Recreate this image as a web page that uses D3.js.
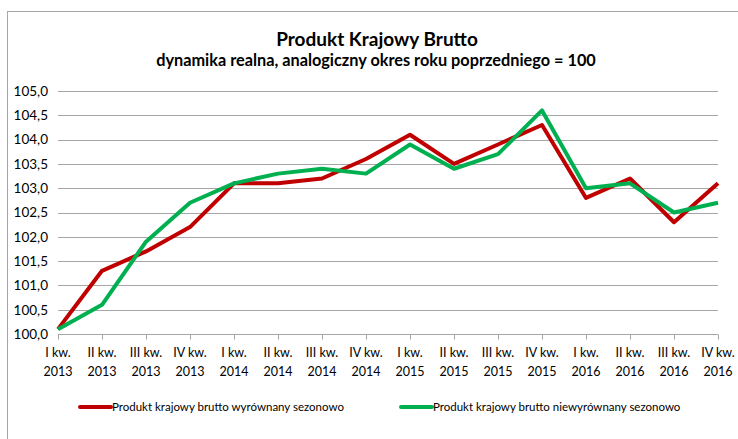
<!DOCTYPE html>
<html>
<head>
<meta charset="utf-8">
<script src="https://cdn.jsdelivr.net/npm/d3@7"></script>
<style>
  body { margin: 0; background: #fff; }
  text { font-family: Lato, Carlito, Calibri, "Open Sans", sans-serif; fill: #000; }
</style>
</head>
<body>
<svg id="chart"></svg>
<script>
// quarters on the x axis
const quarters = ['I kw.', 'II kw.', 'III kw.', 'IV kw.']
const years = ['2013', '2014', '2015', '2016']
const categories = years.flatMap(y => quarters.map(q => ({q: q, y: y})))

const yTicks = [100, 100.5, 101, 101.5, 102, 102.5, 103, 103.5, 104, 104.5, 105]

// seasonally adjusted
const seasonallyAdjusted = [100.1, 101.3, 101.7, 102.2, 103.1, 103.1, 103.2, 103.6, 104.1, 103.5, 103.9, 104.3, 102.8, 103.2, 102.3, 103.1]
// not seasonally adjusted
const notAdjusted = [100.1, 100.6, 101.9, 102.7, 103.1, 103.3, 103.4, 103.3, 103.9, 103.4, 103.7, 104.6, 103.0, 103.1, 102.5, 102.7]

const seriesNames = ['Produkt krajowy brutto wyrównany sezonowo', 'Produkt krajowy brutto niewyrównany sezonowo']
const seriesColors = ['#C00000', '#00B050']

class LineChart {

    constructor(_config) {
        this.config = {
            parentElement: _config.parentElement,
            containerWidth: 738,
            containerHeight: 439,
            margin: {top: 91, right: 20, bottom: 105, left: 58},
        }
        this.initVis()
    }

    initVis() {
        let vis = this

        vis.width = 718 - vis.config.margin.left
        vis.height = 334 - vis.config.margin.top

        vis.svg = d3.select(vis.config.parentElement)
            .attr('width', vis.config.containerWidth)
            .attr('height', vis.config.containerHeight)

        // outer chart border (runs off the page right and bottom)
        vis.svg.append('rect')
            .attr('x', 7.5).attr('y', 11.5)
            .attr('width', 800).attr('height', 500)
            .attr('fill', 'none')
            .attr('stroke', '#A6A6A6')

        vis.svg.append('text')
            .attr('x', 377).attr('y', 46)
            .attr('text-anchor', 'middle')
            .style('font-size', '19px')
            .style('font-weight', 'bold')
            .text('Produkt Krajowy Brutto')

        vis.svg.append('text')
            .attr('x', 376).attr('y', 66)
            .attr('text-anchor', 'middle')
            .style('font-size', '16.3px')
            .style('font-weight', 'bold')
            .text('dynamika realna, analogiczny okres roku poprzedniego = 100')

        vis.chart = vis.svg.append('g')
            .attr('transform', `translate(${vis.config.margin.left},${vis.config.margin.top})`)

        vis.x = d3.scalePoint()
            .domain(d3.range(categories.length))
            .range([0, vis.width])

        vis.y = d3.scaleLinear()
            .domain([100, 105])
            .range([vis.height, 0])

        // gridlines
        vis.chart.append('g')
            .selectAll('line')
            .data(yTicks)
            .join('line')
                .attr('x1', 0).attr('x2', vis.width)
                .attr('y1', d => Math.round(vis.y(d)) + 0.5)
                .attr('y2', d => Math.round(vis.y(d)) + 0.5)
                .attr('stroke', '#A6A6A6')

        // y axis labels
        let yAxis = d3.axisLeft(vis.y)
            .tickValues(yTicks)
            .tickSize(0)
            .tickPadding(10)
            .tickFormat(d => d3.format('.1f')(d).replace('.', ','))
        let yg = vis.chart.append('g').call(yAxis)
        yg.select('.domain').remove()
        yg.selectAll('text').style('font-size', '13.5px').attr('fill', '#000')

        // x axis ticks
        let xAxis = d3.axisBottom(vis.x)
            .tickSize(5)
            .tickFormat('')
        let xg = vis.chart.append('g')
            .attr('transform', `translate(0,${Math.round(vis.height) + 0.5})`)
            .call(xAxis)
        xg.select('.domain').remove()
        xg.selectAll('line').attr('stroke', '#A6A6A6')

        // two-line category labels
        let lbl = vis.chart.append('g')
            .selectAll('text')
            .data(categories)
            .join('text')
                .attr('text-anchor', 'middle')
                .attr('transform', (d, i) => `translate(${vis.x(i)},${vis.height + 23})`)
                .style('font-size', '12.5px')
        lbl.append('tspan').attr('x', 0).attr('y', 0).text(d => d.q)
        lbl.append('tspan').attr('x', 0).attr('y', 19).text(d => d.y)

        let line = d3.line()
            .x((d, i) => vis.x(i))
            .y(d => vis.y(d))

        vis.chart.selectAll('.series')
            .data([seasonallyAdjusted, notAdjusted])
            .join('path')
                .attr('class', 'series')
                .attr('d', line)
                .attr('fill', 'none')
                .attr('stroke', (d, i) => seriesColors[i])
                .attr('stroke-width', 4)
                .attr('stroke-linejoin', 'round')

        // legend
        let legendX = [80, 401]
        let legend = vis.svg.append('g')
            .selectAll('g')
            .data(seriesNames)
            .join('g')
                .attr('transform', (d, i) => `translate(${legendX[i]},407)`)
        legend.append('line')
            .attr('x1', 0).attr('x2', 31)
            .attr('stroke', (d, i) => seriesColors[i])
            .attr('stroke-width', 4)
            .attr('stroke-linecap', 'round')
        legend.append('text')
            .attr('x', 32).attr('y', 4)
            .style('font-size', '11.5px')
            .text(d => d)
    }
}

new LineChart({parentElement: '#chart'})
</script>
</body>
</html>
